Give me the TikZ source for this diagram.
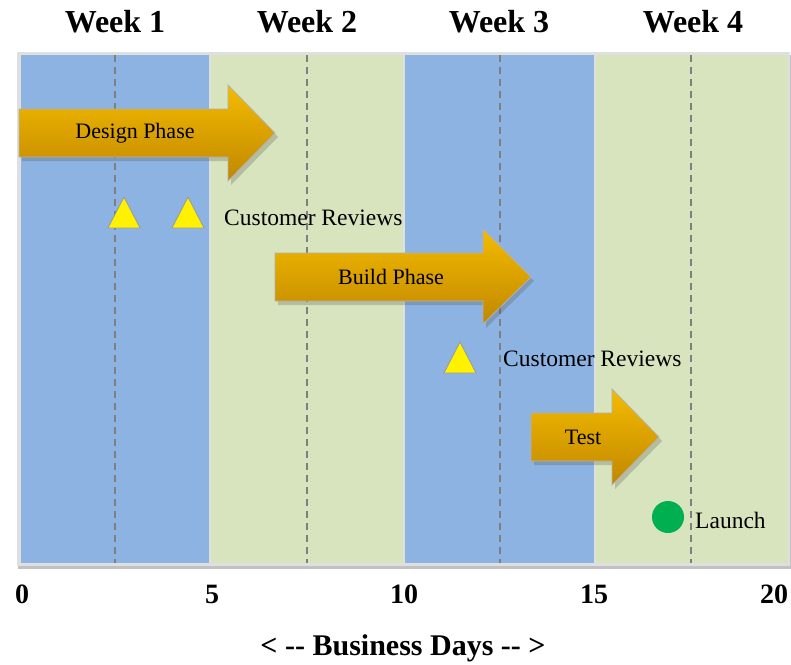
\documentclass[tikz,border=0pt]{standalone}
\usepackage{fontspec}
\setmainfont{Liberation Serif}
\usetikzlibrary{shadows}
\definecolor{bandblue}{HTML}{8DB3E2}
\definecolor{bandgreen}{HTML}{D7E4BD}
\definecolor{arrtop}{HTML}{F4BB00}
\definecolor{arrbot}{HTML}{C08700}
\definecolor{launchgreen}{HTML}{00B050}
\definecolor{dashgray}{HTML}{7F7F7F}
\tikzset{
  phasearrow/.style={draw=gray!60, line width=0.8pt, top color=arrtop, bottom color=arrbot,
     drop shadow={shadow xshift=3pt, shadow yshift=-4pt, opacity=0.25, fill=black!70}},
  review/.style={draw=gray!80, line width=0.8pt, fill=yellow},
  weeklabel/.style={font=\fontsize{32}{36}\selectfont\bfseries, anchor=base, inner sep=0pt},
  daylabel/.style={font=\fontsize{28}{32}\selectfont\bfseries, anchor=base, inner sep=0pt},
  phasetext/.style={font=\fontsize{22}{26}\selectfont, inner sep=0pt},
  marktext/.style={font=\fontsize{23.5}{26}\selectfont, anchor=base west, inner sep=0pt},
  gridline/.style={draw=dashgray, line width=1.3pt, dash pattern=on 7pt off 5pt},
}
\begin{document}
\begin{tikzpicture}[x=1pt, y=-1pt]
\useasboundingbox (0,0) rectangle (791,664);
% frame with shadow
\fill[gray!25, drop shadow={shadow xshift=1pt, shadow yshift=-3pt, opacity=0.35, fill=black!70}] (17,52) rectangle (790,566);
% bands
\fill[bandblue] (21,55) rectangle (209,563);
\fill[bandgreen] (211,55) rectangle (403,563);
\fill[bandblue] (405,55) rectangle (594,563);
\fill[bandgreen] (596,55) rectangle (788,563);
% dashed grid lines
\foreach \gx in {115,307,500,691} { \path[gridline] (\gx,55) -- (\gx,563); }
% week labels
\node[weeklabel] (w1) at (115,32) {Week 1};
\node[weeklabel] (w2) at (307,32) {Week 2};
\node[weeklabel] (w3) at (499,32) {Week 3};
\node[weeklabel] (w4) at (693,32) {Week 4};
% design phase
\path[phasearrow] (19,109) -- (228,109) -- (228,85) -- (275,133) -- (228,181) -- (228,157) -- (19,157) -- cycle;
\node[phasetext] (design) at (135,133) {Design Phase};
\path[review] (108,228) -- (124,197) -- (140,228) -- cycle;
\path[review] (172,228) -- (188,197) -- (204,228) -- cycle;
\node[marktext] (rev1) at (224,225) {Customer Reviews};
% build phase
\path[phasearrow] (275,253) -- (483,253) -- (483,229) -- (531,277) -- (483,324) -- (483,301) -- (275,301) -- cycle;
\node[phasetext] (build) at (391,277) {Build Phase};
\path[review] (444,373) -- (460,342) -- (476,373) -- cycle;
\node[marktext] (rev2) at (503,366) {Customer Reviews};
% test
\path[phasearrow] (531,413) -- (612,413) -- (612,389) -- (659,437) -- (612,485) -- (612,461) -- (531,461) -- cycle;
\node[phasetext] (test) at (583,437) {Test};
% launch
\fill[launchgreen] (668,517) circle (16);
\node[marktext] (launch) at (695,528) {Launch};
% axis labels
\node[daylabel] (d0) at (22,603) {0};
\node[daylabel] (d5) at (212,603) {5};
\node[daylabel] (d10) at (404,603) {10};
\node[daylabel] (d15) at (594,603) {15};
\node[daylabel] (d20) at (774,603) {20};
\node[daylabel, font=\fontsize{30}{34}\selectfont\bfseries] (xlab) at (403,655) {< -{}- Business Days -{}- >};
\end{tikzpicture}
\end{document}
